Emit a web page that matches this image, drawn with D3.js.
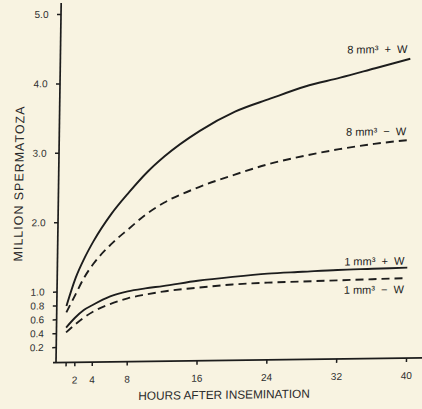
<!DOCTYPE html>
<html>
<head>
<meta charset="utf-8">
<script src="https://cdn.jsdelivr.net/npm/d3@7/dist/d3.min.js"></script>
<style>
  html, body { margin: 0; padding: 0; background: #f8f3e1; }
  svg { display: block; }
  text { font-family: "Liberation Sans", Arial, Helvetica, sans-serif; }
</style>
</head>
<body>
<svg id="chart" width="422" height="409"></svg>
<script>
// Sperm counts (millions) after insemination, by dose and washing
const hours   = [1, 2, 3, 4, 6, 8, 10, 12, 16, 20, 24, 28, 32, 36, 40];
const plus8   = [0.79, 1.19, 1.48, 1.72, 2.11, 2.42, 2.70, 2.93, 3.29, 3.56, 3.74, 3.91, 4.03, 4.16, 4.29];
const minus8  = [0.70, 0.95, 1.20, 1.39, 1.67, 1.89, 2.10, 2.26, 2.48, 2.65, 2.80, 2.91, 3.00, 3.07, 3.12];
const plus1   = [0.48, 0.62, 0.73, 0.80, 0.92, 0.99, 1.03, 1.06, 1.13, 1.18, 1.22, 1.24, 1.26, 1.27, 1.28];
const minus1  = [0.41, 0.52, 0.62, 0.70, 0.81, 0.89, 0.94, 0.98, 1.03, 1.07, 1.09, 1.10, 1.11, 1.12, 1.13];
const seriesNames = ["8 mm\u00B3  +  W", "8 mm\u00B3  \u2212  W", "1 mm\u00B3  +  W", "1 mm\u00B3  \u2212  W"];
const seriesValues = [plus8, minus8, plus1, minus1];
const seriesDashed = [false, true, false, true];

const xTicks = [1, 2, 4, 8, 16, 24, 32, 40];
const yTicks = [0.2, 0.4, 0.6, 0.8, 1.0, 2.0, 3.0, 4.0, 5.0];
const xTitle = "HOURS AFTER INSEMINATION";
const yTitle = "MILLION SPERMATOZA";

const svg = d3.select("#chart");
svg.append("rect").attr("width", 422).attr("height", 409).attr("fill", "#f8f3e1");

// The printed figure's axes are not quite square; a slight shear reproduces that.
const x0 = 56, y0 = 362.5, shY = -0.0129, shX = -0.0144;
const g = svg.append("g")
  .attr("transform", `matrix(1,${shY},${shX},1,${-shX * y0},${-shY * x0})`);

const x = d3.scaleLinear().domain([0, 40]).range([56.9, 406]);
const y = d3.scaleLinear().domain([0, 5]).range([361, 14]);

const ink = "#1d1d1d";

// axis lines
g.append("line").attr("x1", 53).attr("x2", 440).attr("y1", y0).attr("y2", y0)
  .attr("stroke", ink).attr("stroke-width", 1.7);
g.append("line").attr("x1", x0).attr("x2", x0).attr("y1", y0).attr("y2", y(5.16))
  .attr("stroke", ink).attr("stroke-width", 1.7);

const xAxis = g.append("g").attr("transform", `translate(0,${y0})`)
  .call(d3.axisBottom(x).tickValues(xTicks).tickFormat(d => d === 1 ? "" : d)
    .tickSize(4).tickPadding(10));
const yAxis = g.append("g").attr("transform", `translate(${x0},0)`)
  .call(d3.axisLeft(y).tickValues(yTicks).tickFormat(d3.format(".1f"))
    .tickSize(4).tickPadding(8.5));

[xAxis, yAxis].forEach(a => {
  a.select(".domain").remove();
  a.selectAll(".tick line").attr("stroke", ink).attr("stroke-width", 1.5);
  a.selectAll(".tick text").attr("fill", "#2e2e2e").attr("font-size", 10)
    .attr("font-family", "'Liberation Sans', Arial, sans-serif");
});

// titles
g.append("text").attr("x", 224.5).attr("y", 401).attr("text-anchor", "middle")
  .attr("font-size", 11.8).attr("fill", "#2a2a2a").text(xTitle);
g.append("text").attr("transform", "translate(20.7,183.5) rotate(-90)")
  .attr("text-anchor", "middle").attr("font-size", 12.5)
  .attr("textLength", 155).attr("lengthAdjust", "spacing")
  .attr("fill", "#2a2a2a").text(yTitle);

// curves
const line = d3.line()
  .x((d, i) => x(hours[i]))
  .y(d => y(d))
  .curve(d3.curveMonotoneX);

seriesValues.forEach((vals, k) => {
  g.append("path").datum(vals)
    .attr("d", line)
    .attr("fill", "none")
    .attr("stroke", ink)
    .attr("stroke-width", 1.9)
    .attr("stroke-dasharray", seriesDashed[k] ? "8,5" : null);
});

// series labels at the right-hand end of each curve
const labelShift = [-6, -5, -3, 15];
seriesValues.forEach((vals, k) => {
  g.append("text")
    .attr("x", x(hours[hours.length - 1]) - 3)
    .attr("y", y(vals[vals.length - 1]) + labelShift[k])
    .attr("text-anchor", "end")
    .attr("font-size", 11)
    .attr("fill", "#222")
    .style("white-space", "pre")
    .text(seriesNames[k]);
});
</script>
</body>
</html>
